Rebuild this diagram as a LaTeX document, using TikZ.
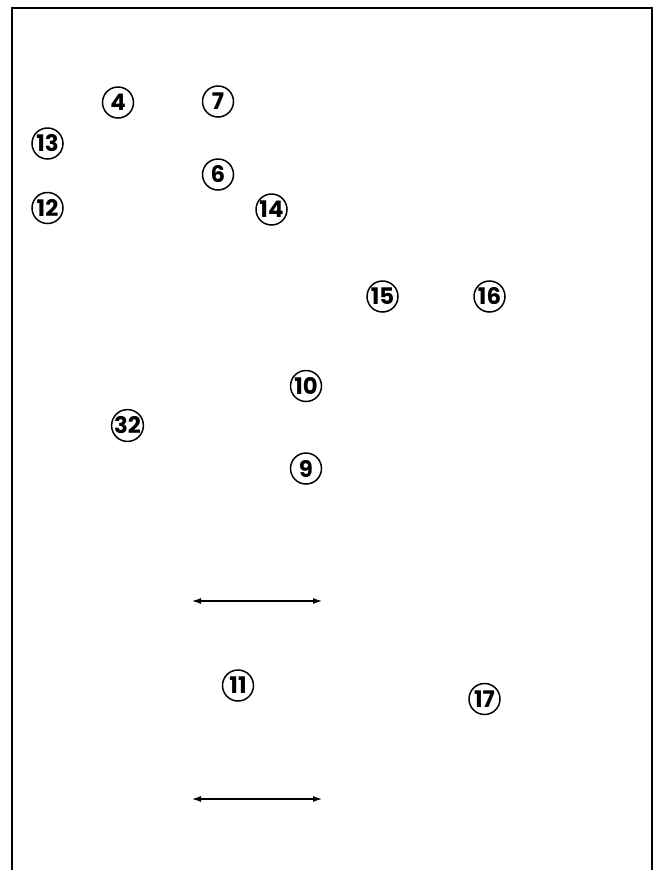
\documentclass[tikz,border=0pt]{standalone}
\usepackage{fontspec}
\usepackage{tikz}
\usetikzlibrary{arrows.meta}
\newfontfamily\numfont{Poppins}

\tikzset{
  num/.style={circle, draw, line width=0.85pt, minimum size=0.62cm, inner sep=0pt,
    font=\numfont\bfseries\fontsize{13}{13}\selectfont},
  dimline/.style={line width=0.6pt, {Latex[length=1.8mm,width=1.2mm]}-{Latex[length=1.8mm,width=1.2mm]}}
}

\begin{document}
\begin{tikzpicture}
  \useasboundingbox (0,0) rectangle (13.16,-17.4);
  % cornice aperta in basso
  \draw[line width=1.6pt] (0.24,-17.4) -- (0.24,-0.16) -- (13.04,-0.16) -- (13.04,-17.4);
  % numeri
  \node[num] (n4) at (2.36,-2.05) {4};   \node[num] (n7) at (4.36,-2.03) {7};
  \node[num] (n13) at (0.95,-2.87) {13};
  \node[num] (n6) at (4.36,-3.49) {6};
  \node[num] (n12) at (0.95,-4.16) {12}; \node[num] (n14) at (5.43,-4.19) {14};
  \node[num] (n15) at (7.65,-5.93) {15}; \node[num] (n16) at (9.79,-5.93) {16};
  \node[num] (n10) at (6.12,-7.72) {10};
  \node[num] (n32) at (2.55,-8.51) {32};
  \node[num] (n9) at (6.12,-9.37) {9};
  \node[num] (n11) at (4.76,-13.71) {11};
  \node[num] (n17) at (9.69,-13.98) {17};
  % quote
  \coordinate (q1a) at (3.84,-12.02); \coordinate (q1b) at (6.44,-12.02);
  \coordinate (q2a) at (3.84,-15.98); \coordinate (q2b) at (6.44,-15.98);
  \draw[dimline] (q1a) -- (q1b);
  \draw[dimline] (q2a) -- (q2b);
\end{tikzpicture}
\end{document}
